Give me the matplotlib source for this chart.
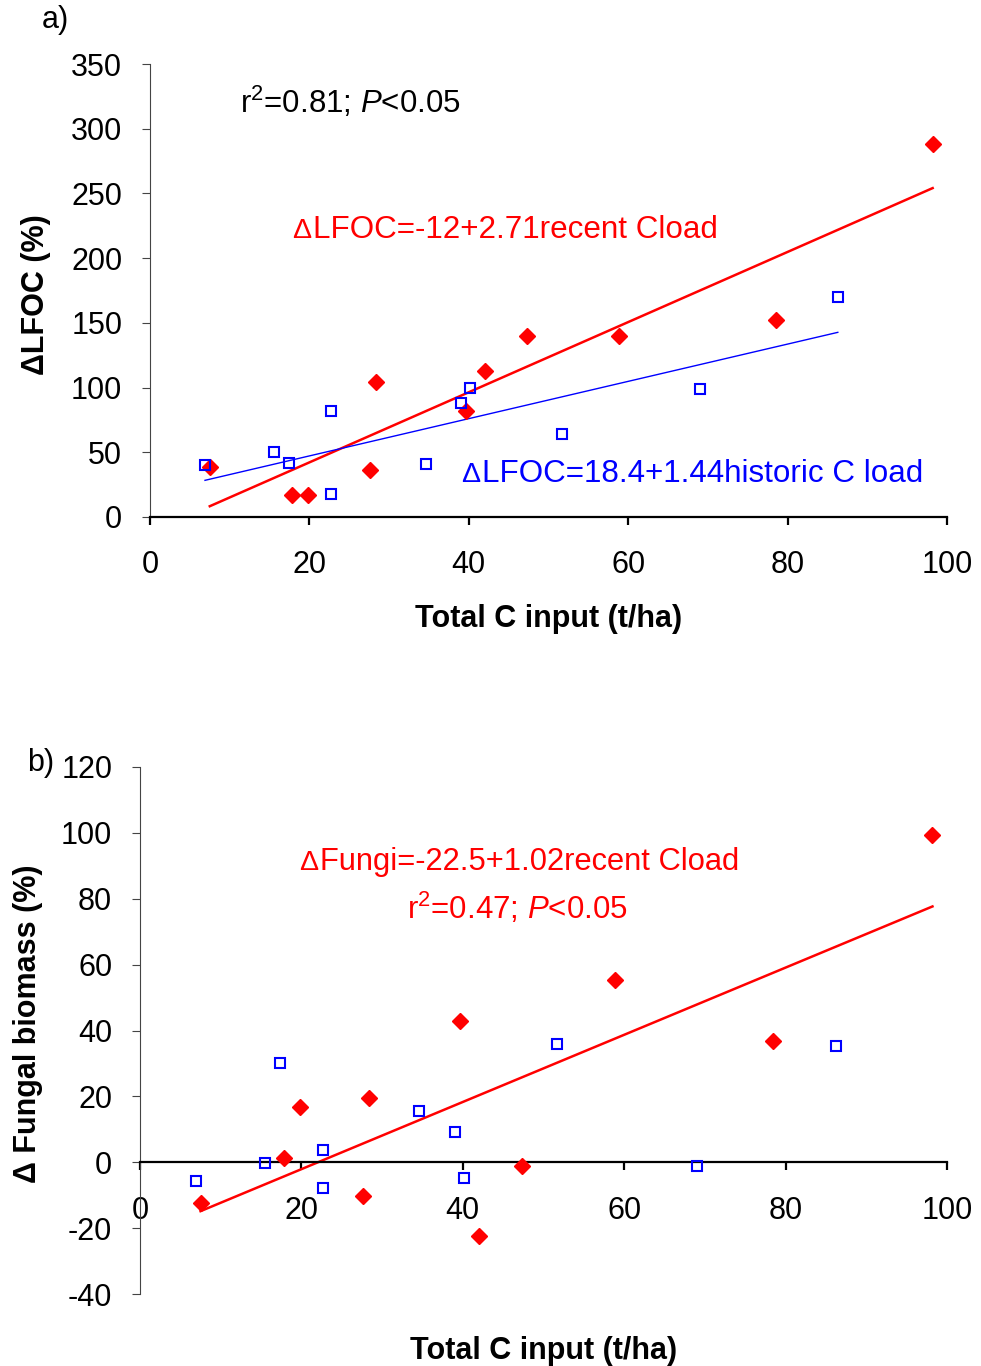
import numpy as np
import matplotlib
matplotlib.use('Agg')
from matplotlib import pyplot as plt

plt.rcParams['font.family'] = ['Liberation Sans', 'DejaVu Sans']
plt.rcParams['mathtext.fontset'] = 'custom'
plt.rcParams['mathtext.rm'] = 'Liberation Sans'
plt.rcParams['mathtext.it'] = 'Liberation Sans:italic'
plt.rcParams['axes.unicode_minus'] = False

# total C input (t/ha) for recent (red) and historic (blue) loading
recent_x = [7.5, 17.8, 19.8, 27.6, 28.4, 39.6, 42.0, 47.3, 58.9, 78.5, 98.2]
historic_x = [6.9, 15.5, 17.4, 22.7, 22.7, 34.6, 39.0, 40.2, 51.7, 69.0, 86.3]

# change in light fraction organic C (%)
recent_lfoc = [39, 17, 17, 36, 104, 82, 113, 140, 140, 152, 288]
historic_lfoc = [40, 50, 42, 82, 18, 41, 88, 100, 64, 99, 170]

# change in fungal biomass (%)
recent_fungi = [-12.3, 1.2, 16.9, -10.3, 19.4, 43, -22.5, -1.2, 55.2, 36.9, 99.5]
historic_fungi = [-5.8, -0.3, 30, -7.7, 3.8, 15.5, 9.3, -4.7, 36, -1.0, 35.4]

# regression lines (intercept, slope)
lfoc_recent_fit = (-12, 2.71)
lfoc_historic_fit = (18.4, 1.44)
fungi_recent_fit = (-22.5, 1.02)

RED = '#ff0000'
BLUE = '#0000ff'
W, H = 981, 1366


def fit_line(ax, xs, fit, color, lw):
    xx = np.array([min(xs), max(xs)])
    ax.plot(xx, fit[0] + fit[1] * xx, color=color, lw=lw, zorder=2)


def scatter(ax, rx, ry, hx, hy):
    ax.plot(rx, ry, 'D', ms=8, color=RED, mec=RED, zorder=3)
    ax.plot(hx, hy, 's', ms=7, mfc='none', mec=BLUE, mew=1.5, zorder=3)


def delta_text(ax, x, y, text, color, size=22.6):
    ax.text(x, y, text, color=color, fontsize=size, ha='left', va='baseline')
    ax.text(x - 0.2, y, 'Δ', color=color, fontsize=20.5, ha='right', va='baseline')


def style_axes(ax):
    for side in ('top', 'right'):
        ax.spines[side].set_visible(False)
    ax.spines['left'].set_color('#444444')
    ax.spines['bottom'].set_linewidth(1.6)
    ax.tick_params(axis='both', labelsize=22, direction='out', length=6)
    ax.tick_params(axis='y', colors='#444444', labelcolor='black', pad=14)
    ax.tick_params(axis='x', width=1.6, pad=18)
    ax.set_xlim(0, 100)
    ax.set_xticks(np.arange(0, 101, 20))


fig = plt.figure(figsize=(W / 100, H / 100), dpi=100)

# a) LFOC
ax1 = fig.add_axes([150 / W, 1 - 517 / H, 797 / W, (517 - 64) / H])
style_axes(ax1)
ax1.set_ylim(0, 350)
ax1.set_yticks(np.arange(0, 351, 50))
fit_line(ax1, recent_x, lfoc_recent_fit, RED, 1.8)
fit_line(ax1, historic_x, lfoc_historic_fit, BLUE, 1.0)
scatter(ax1, recent_x, recent_lfoc, historic_x, historic_lfoc)
ax1.text(11.3, 312, r'r$^2$=0.81; $P$<0.05', fontsize=22.5, va='baseline')
delta_text(ax1, 20.4, 215.5, 'LFOC=-12+2.71recent Cload', RED)
delta_text(ax1, 41.6, 27, 'LFOC=18.4+1.44historic C load', BLUE)
ax1.set_xlabel('Total C input (t/ha)', fontsize=22, fontweight='bold', va='center')
ax1.xaxis.set_label_coords(0.5, (517 - 619) / (517 - 64))
ax1.set_ylabel('ΔLFOC (%)', fontsize=22, fontweight='bold', va='center')
ax1.yaxis.set_label_coords((36 - 150) / 797, (517 - 295) / (517 - 64))

# b) fungal biomass
ax2 = fig.add_axes([140 / W, 1 - 1294 / H, 807 / W, (1294 - 767) / H])
style_axes(ax2)
ax2.spines['bottom'].set_position(('data', 0))
ax2.set_ylim(-40, 120)
ax2.set_yticks(np.arange(-40, 121, 20))
fit_line(ax2, recent_x, fungi_recent_fit, RED, 1.8)
scatter(ax2, recent_x, recent_fungi, historic_x, historic_fungi)
delta_text(ax2, 22.3, 88.6, 'Fungi=-22.5+1.02recent Cload', RED, size=22.2)
ax2.text(33.1, 73.8, r'r$^2$=0.47; $P$<0.05', color=RED, fontsize=22.5, va='baseline')
ax2.set_xlabel('Total C input (t/ha)', fontsize=22, fontweight='bold', va='center')
ax2.xaxis.set_label_coords(0.5, (1294 - 1351) / (1294 - 767))
ax2.set_ylabel('Δ Fungal biomass (%)', fontsize=22, fontweight='bold', va='center')
ax2.yaxis.set_label_coords((28 - 140) / 807, (1294 - 1024) / (1294 - 767))

fig.text(42 / W, 1 - 20 / H, 'a)', fontsize=22, va='center')
fig.text(27 / W, 1 - 763 / H, 'b)', fontsize=22, va='center')

fig.savefig('out.png', dpi=100)
